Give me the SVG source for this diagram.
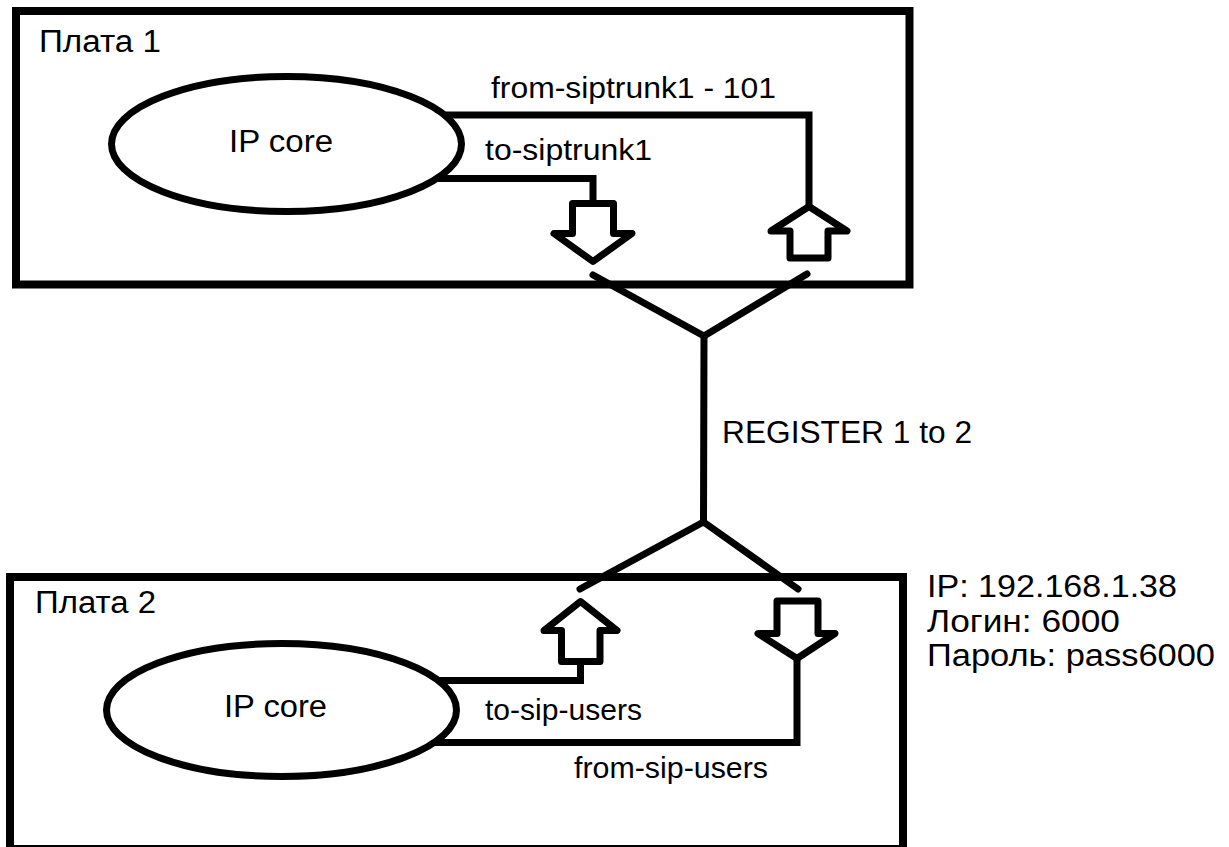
<svg xmlns="http://www.w3.org/2000/svg" width="1229" height="847" viewBox="0 0 1229 847">
<style>
.box{fill:none;stroke:#000;stroke-width:8}
.core{fill:#fff;stroke:#000;stroke-width:7}
.ln{fill:none;stroke:#000;stroke-width:7;stroke-linejoin:miter}
.y{fill:none;stroke:#000;stroke-width:7;stroke-linecap:round;stroke-linejoin:round}
.arr{fill:#fff;stroke:#000;stroke-width:7;stroke-linejoin:round}
text{font-family:"Liberation Sans","Open Sans",Arial,sans-serif;fill:#000}
.t{font-size:31px}
.l{font-size:29px}
</style>
<rect width="1229" height="847" fill="#fff"/>
<g id="board1">
<rect class="box" x="16" y="11" width="893.5" height="273.5"/>
<text class="t" x="39" y="52" textLength="122" lengthAdjust="spacingAndGlyphs">Плата 1</text>
</g>
<g id="board2">
<rect class="box" x="10" y="577" width="893" height="272"/>
<text class="t" x="35" y="613" textLength="121" lengthAdjust="spacingAndGlyphs">Плата 2</text>
</g>
<g id="connectors">
<polyline class="ln" points="420,115 809,115 809,205"/>
<polyline class="ln" points="420,178.5 593,178.5 593,204"/>
<polyline class="ln" points="420,680.5 580.5,680.5 580.5,660"/>
<polyline class="ln" points="420,742.5 797,742.5 797,660"/>
<polyline class="y" points="593,275 704,336 807,274"/>
<line class="y" x1="704" y1="336" x2="703.5" y2="522"/>
<polyline class="y" points="580,589 703.5,522 798,589"/>
<polygon class="arr" points="572.5,203.5 613.5,203.5 613.5,233.5 632,233.5 593,261.5 554,233.5 572.5,233.5"/>
<polygon class="arr" points="809,206.5 847,231 828,231 828,258 790,258 790,231 771,231"/>
<polygon class="arr" points="580.5,601.5 617,630.5 600,630.5 600,661.5 561.5,661.5 561.5,630.5 544,630.5"/>
<polygon class="arr" points="777,601 818,601 818,633.5 835,633.5 797,658.5 758,633.5 777,633.5"/>
<text class="l" x="491" y="98" textLength="285" lengthAdjust="spacingAndGlyphs">from-siptrunk1 - 101</text>
<text class="l" x="485" y="160" textLength="167" lengthAdjust="spacingAndGlyphs">to-siptrunk1</text>
<text class="t" x="722" y="443" textLength="250" lengthAdjust="spacingAndGlyphs">REGISTER 1 to 2</text>
<text class="l" x="485" y="720" textLength="157" lengthAdjust="spacingAndGlyphs">to-sip-users</text>
<text class="l" x="574" y="778" textLength="194" lengthAdjust="spacingAndGlyphs">from-sip-users</text>
</g>
<g id="core1">
<ellipse class="core" cx="286.5" cy="144" rx="175" ry="67.5"/>
<text class="t" x="229" y="152" textLength="104" lengthAdjust="spacingAndGlyphs">IP core</text>
</g>
<g id="core2">
<ellipse class="core" cx="281.5" cy="710" rx="175" ry="66.5"/>
<text class="t" x="224" y="717" textLength="103" lengthAdjust="spacingAndGlyphs">IP core</text>
</g>
<g id="info">
<text class="t" x="927" y="597" textLength="250" lengthAdjust="spacingAndGlyphs">IP: 192.168.1.38</text>
<text class="t" x="927" y="632" textLength="193" lengthAdjust="spacingAndGlyphs">Логин: 6000</text>
<text class="t" x="927" y="666" textLength="288" lengthAdjust="spacingAndGlyphs">Пароль: pass6000</text>
</g>
</svg>
